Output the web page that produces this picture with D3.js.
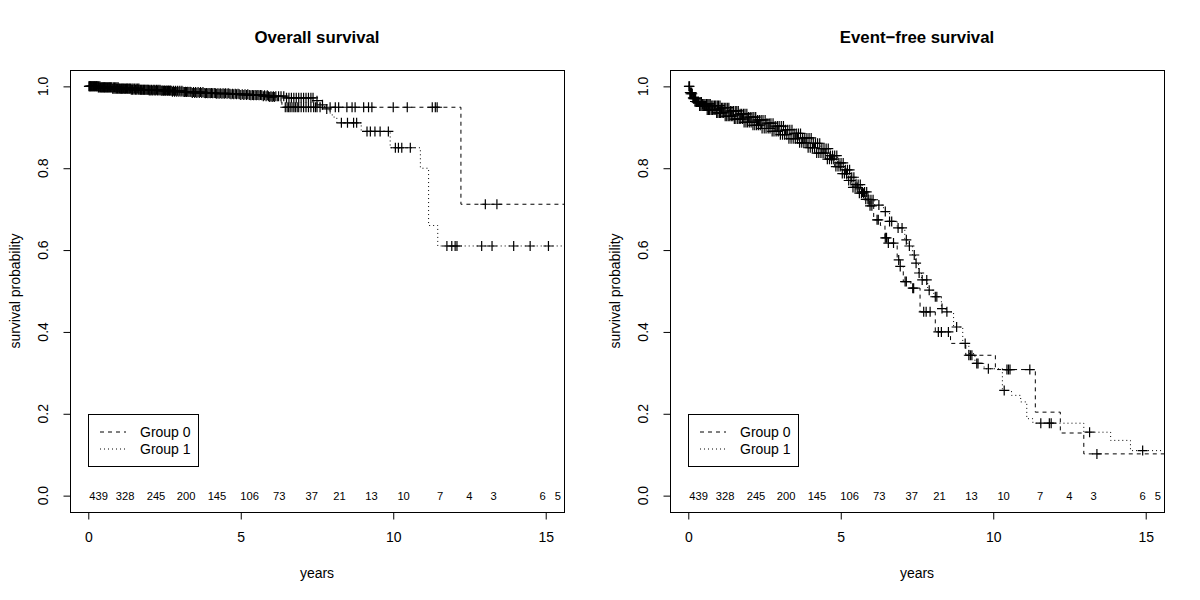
<!DOCTYPE html>
<html>
<head>
<meta charset="utf-8">
<script src="https://cdn.jsdelivr.net/npm/d3@7"></script>
<style>
  html, body { margin: 0; padding: 0; background: #fff; }
  svg { display: block; font-family: "Liberation Sans", Arial, Helvetica, sans-serif; }
</style>
</head>
<body>
<svg id="chart" width="1200" height="600"></svg>
<script>
// ---------------- DATA ----------------
const panelTitles = ["Overall survival", "Event\u2212free survival"];
const groupNames = ["Group 0", "Group 1"];
const xTicks = [0, 5, 10, 15];
const yTicks = [0, 0.2, 0.4, 0.6, 0.8, 1.0];

// Overall survival – step times and survival after each step
const os0Times = [0, 0.4, 1.0, 1.7, 2.4, 3.1, 3.8, 4.6, 5.3, 5.9, 6.2, 6.35, 12.22];
const os0Surv  = [1, 0.998, 0.995, 0.992, 0.989, 0.986, 0.983, 0.981, 0.978, 0.974, 0.962, 0.949, 0.712];
const os1Times = [0, 0.3, 0.8, 1.4, 2.0, 2.7, 3.4, 4.2, 5.0, 5.7, 6.5, 7.4, 7.6, 7.75, 7.9, 8.0, 8.15, 8.95, 9.9, 10.89, 11.16, 11.46];
const os1Surv  = [1, 0.997, 0.994, 0.992, 0.99, 0.987, 0.984, 0.982, 0.979, 0.976, 0.972, 0.965, 0.955, 0.945, 0.935, 0.925, 0.911, 0.89, 0.85, 0.80, 0.66, 0.61];
const os0Cens = [0.02,0.04,0.07,0.1,0.13,0.17,0.2,0.24,0.27,0.31,0.34,0.38,0.42,0.46,0.5,0.53,0.57,0.61,0.65,0.69,0.73,0.77,0.82,0.86,0.9,0.94,0.98,1.02,1.07,1.11,1.15,1.2,1.25,1.29,1.34,1.38,1.43,1.47,1.52,1.57,1.62,1.66,1.71,1.76,1.81,1.86,1.92,1.97,2.02,2.07,2.13,2.18,2.24,2.29,2.35,2.41,2.47,2.53,2.6,2.66,2.72,2.79,2.86,2.93,3.0,3.07,3.15,3.22,3.3,3.37,3.45,3.52,3.6,3.68,3.76,3.84,3.92,4.0,4.08,4.17,4.25,4.33,4.42,4.5,4.59,4.68,4.77,4.86,4.95,5.05,5.14,5.23,5.33,5.42,5.51,5.6,5.69,5.78,5.87,5.95,6.03,6.1,6.46,6.52,6.57,6.62,6.68,6.74,6.79,6.85,6.9,6.98,7.06,7.14,7.22,7.3,7.39,7.45,7.5,7.6,7.93,8.1,8.21,8.48,8.65,8.75,9.03,9.19,9.3,10.0,10.46,11.28,11.38,11.44,13.02,13.4];
const os1Cens = [0.05,0.08,0.12,0.15,0.19,0.22,0.26,0.29,0.33,0.36,0.4,0.44,0.48,0.52,0.55,0.59,0.63,0.67,0.71,0.75,0.8,0.84,0.88,0.92,0.96,1.0,1.05,1.09,1.13,1.18,1.22,1.27,1.31,1.36,1.41,1.45,1.5,1.55,1.59,1.64,1.69,1.74,1.79,1.84,1.89,1.95,2.0,2.05,2.1,2.16,2.21,2.27,2.32,2.38,2.44,2.5,2.57,2.63,2.69,2.76,2.83,2.9,2.97,3.04,3.11,3.19,3.26,3.34,3.41,3.49,3.56,3.64,3.72,3.8,3.88,3.96,4.04,4.13,4.21,4.29,4.38,4.46,4.55,4.64,4.73,4.82,4.91,5.0,5.1,5.19,5.28,5.38,5.47,5.56,5.65,5.74,5.83,5.91,5.99,6.07,6.15,6.24,6.32,6.41,6.5,6.58,6.66,6.74,6.82,6.9,6.98,7.06,7.14,7.22,7.3,7.37,7.5,7.68,7.82,8.3,8.5,8.7,8.8,9.14,9.25,9.4,9.57,9.84,10.07,10.17,10.28,10.56,11.76,11.92,12.03,12.09,12.9,13.24,13.95,14.49,15.09];

// Event-free survival
const efs0Times = [0, 0.05, 0.12, 0.2, 0.35, 0.6, 0.9, 1.2, 1.5, 1.8, 2.1, 2.4, 2.7, 3.0, 3.3, 3.6, 3.9, 4.2, 4.5, 4.8, 5.0, 5.2, 5.4, 5.6, 5.8, 5.95, 6.08, 6.3, 6.45, 6.55, 6.85, 6.95, 7.05, 7.3, 7.6, 8.1, 8.6, 9.1, 10.07, 11.38, 12.2, 12.97];
const efs0Surv  = [1, 0.985, 0.972, 0.963, 0.952, 0.942, 0.935, 0.927, 0.92, 0.912, 0.905, 0.897, 0.89, 0.882, 0.872, 0.862, 0.85, 0.837, 0.822, 0.804, 0.787, 0.77, 0.753, 0.739, 0.724, 0.708, 0.674, 0.66, 0.63, 0.617, 0.576, 0.56, 0.523, 0.507, 0.449, 0.40, 0.372, 0.343, 0.308, 0.204, 0.153, 0.102];
const efs1Times = [0, 0.06, 0.15, 0.25, 0.45, 0.75, 1.05, 1.35, 1.65, 1.95, 2.25, 2.55, 2.85, 3.15, 3.45, 3.75, 4.05, 4.35, 4.65, 4.9, 5.1, 5.3, 5.5, 5.7, 5.9, 6.1, 6.4, 6.6, 6.85, 7.1, 7.2, 7.35, 7.45, 7.55, 7.65, 7.85, 8.05, 8.3, 8.45, 8.7, 9.0, 9.2, 9.4, 9.7, 10.3, 10.6, 10.9, 11.1, 11.3, 12.97, 13.85, 14.5];
const efs1Surv  = [1, 0.982, 0.97, 0.962, 0.957, 0.953, 0.948, 0.94, 0.933, 0.925, 0.918, 0.91, 0.903, 0.894, 0.885, 0.874, 0.861, 0.848, 0.831, 0.813, 0.796, 0.778, 0.76, 0.742, 0.723, 0.71, 0.694, 0.67, 0.654, 0.625, 0.61, 0.588, 0.568, 0.544, 0.527, 0.502, 0.486, 0.457, 0.449, 0.412, 0.372, 0.347, 0.323, 0.31, 0.257, 0.245, 0.229, 0.188, 0.177, 0.155, 0.135, 0.11];
const efs0Cens = [0.02,0.05,0.08,0.11,0.15,0.18,0.22,0.25,0.29,0.33,0.37,0.41,0.45,0.49,0.53,0.57,0.62,0.66,0.7,0.75,0.79,0.84,0.88,0.93,0.97,1.02,1.06,1.11,1.16,1.21,1.26,1.31,1.36,1.41,1.46,1.51,1.56,1.62,1.67,1.72,1.78,1.83,1.89,1.94,2.0,2.06,2.12,2.18,2.24,2.3,2.36,2.42,2.49,2.55,2.62,2.68,2.75,2.81,2.88,2.95,3.02,3.09,3.16,3.23,3.3,3.37,3.44,3.51,3.58,3.65,3.72,3.79,3.86,3.93,4.0,4.07,4.14,4.21,4.28,4.35,4.42,4.49,4.56,4.63,4.7,4.77,4.84,4.91,4.98,5.05,5.12,5.19,5.26,5.33,5.4,5.47,5.54,5.61,5.68,5.75,5.82,5.89,5.96,6.02,6.19,6.23,6.46,6.5,6.56,6.73,6.9,6.95,7.11,7.15,7.36,7.39,7.72,7.8,7.93,8.2,8.3,8.53,9.2,9.25,9.3,10.45,10.5,10.55,11.2,13.4];
const efs1Cens = [0.04,0.07,0.1,0.13,0.17,0.2,0.24,0.27,0.31,0.35,0.39,0.43,0.47,0.51,0.55,0.6,0.64,0.68,0.72,0.77,0.81,0.86,0.9,0.95,0.99,1.04,1.09,1.13,1.18,1.23,1.28,1.33,1.38,1.43,1.48,1.54,1.59,1.64,1.7,1.75,1.81,1.86,1.92,1.97,2.03,2.09,2.15,2.21,2.27,2.33,2.39,2.45,2.52,2.58,2.65,2.71,2.78,2.85,2.92,2.98,3.05,3.12,3.19,3.26,3.33,3.4,3.47,3.54,3.61,3.68,3.75,3.82,3.89,3.96,4.03,4.1,4.17,4.24,4.31,4.38,4.45,4.52,4.59,4.66,4.73,4.8,4.87,4.94,5.01,5.08,5.15,5.22,5.29,5.36,5.43,5.5,5.57,5.64,5.71,5.78,5.85,5.92,5.99,6.06,6.25,6.46,6.6,6.67,6.88,7.01,7.15,7.25,7.41,7.47,7.57,7.67,7.82,7.9,8.1,8.15,8.32,8.48,8.8,9.08,9.46,9.5,9.84,10.36,11.56,11.84,11.9,13.16,14.9];

// numbers at risk (label and time position)
const riskTimes  = [0.34, 1.21, 2.22, 3.21, 4.22, 5.29, 6.26, 7.33, 8.24, 9.29, 10.34, 11.54, 12.5, 13.29, 14.9, 15.4];
const riskLabels = ["439","328","245","200","145","106","73","37","21","13","10","7","4","3","6","5"];

// ---------------- DRAW ----------------
const svg = d3.select("#chart");
const dashes = ["4,4", "1,3"];
const endTime = 16;

const panels = [
  { left: 70,  title: panelTitles[0], curves: [[os0Times, os0Surv, os0Cens], [os1Times, os1Surv, os1Cens]] },
  { left: 670, title: panelTitles[1], curves: [[efs0Times, efs0Surv, efs0Cens], [efs1Times, efs1Surv, efs1Cens]] }
];

panels.forEach((p, pi) => {
  const x = d3.scaleLinear().domain([-0.6, 15.6]).range([p.left, p.left + 494]);
  const y = d3.scaleLinear().domain([-0.04, 1.04]).range([512, 70]);
  const g = svg.append("g");

  const clipId = "clip" + pi;
  svg.append("clipPath").attr("id", clipId)
    .append("rect").attr("x", x.range()[0]).attr("y", 70)
    .attr("width", 494).attr("height", 442);

  const plot = g.append("g").attr("clip-path", `url(#${clipId})`);

  p.curves.forEach(([times, surv, cens], gi) => {
    const pts = times.map((t, i) => [t, surv[i]]);
    pts.push([endTime, surv[surv.length - 1]]);
    plot.append("path")
      .attr("d", d3.line().x(d => x(d[0])).y(d => y(d[1])).curve(d3.curveStepAfter)(pts))
      .attr("fill", "none").attr("stroke", "#000").attr("stroke-width", 1)
      .attr("stroke-dasharray", dashes[gi]);

    const bis = d3.bisector(d => d).right;
    const survAt = t => surv[Math.max(0, bis(times, t) - 1)];
    plot.append("g").selectAll("path").data(cens).join("path")
      .attr("d", t => {
        const cx = x(t), cy = y(survAt(t));
        return `M${cx - 5},${cy}H${cx + 5}M${cx},${cy - 5}V${cy + 5}`;
      })
      .attr("stroke", "#000").attr("stroke-width", 1.2).attr("fill", "none");
  });

  // numbers at risk
  g.append("g").selectAll("text").data(riskTimes).join("text")
    .attr("x", d => x(d)).attr("y", y(0)).attr("dy", "0.35em")
    .attr("text-anchor", "middle").attr("font-size", 11.2)
    .text((d, i) => riskLabels[i]);

  // box
  g.append("rect").attr("x", x.range()[0] + 0.5).attr("y", 70.5)
    .attr("width", 494).attr("height", 442)
    .attr("fill", "none").attr("stroke", "#000").attr("stroke-width", 1);

  // x axis
  const xAxis = d3.axisBottom(x).tickValues(xTicks).tickSize(7).tickPadding(13).tickFormat(d3.format("d"));
  const xa = g.append("g").attr("transform", "translate(0,512.5)").call(xAxis);
  xa.select(".domain").attr("d", `M${x(0)},0H${x(15)}`);
  xa.selectAll("text").attr("font-size", 14).attr("font-family", null).attr("fill", "#000");
  xa.selectAll("line").attr("stroke", "#000");

  // y axis
  const yAxis = d3.axisLeft(y).tickValues(yTicks).tickSize(7).tickFormat("");
  const ya = g.append("g").attr("transform", `translate(${x.range()[0] + 0.5},0)`).call(yAxis);
  ya.select(".domain").attr("d", `M0,${y(0)}V${y(1)}`);
  ya.selectAll("line").attr("stroke", "#000");
  g.append("g").selectAll("text").data(yTicks).join("text")
    .attr("transform", d => `translate(${x.range()[0] - 27},${y(d)}) rotate(-90)`)
    .attr("text-anchor", "middle").attr("dy", "0.35em").attr("font-size", 14)
    .text(d3.format(".1f"));

  // labels
  const cx = x.range()[0] + 247;
  g.append("text").attr("x", cx).attr("y", 43).attr("text-anchor", "middle")
    .attr("font-size", 16.8).attr("font-weight", "bold").text(p.title);
  g.append("text").attr("x", cx).attr("y", 573).attr("dy", "0.35em").attr("text-anchor", "middle")
    .attr("font-size", 14).text("years");
  g.append("text").attr("transform", `translate(${x.range()[0] - 55},291) rotate(-90)`)
    .attr("text-anchor", "middle").attr("dy", "0.35em").attr("font-size", 14).text("survival probability");

  // legend
  const lx = x.range()[0] + 18, ly = 414;
  g.append("rect").attr("x", lx + 0.5).attr("y", ly + 0.5).attr("width", 110).attr("height", 52)
    .attr("fill", "#fff").attr("stroke", "#000");
  groupNames.forEach((name, gi) => {
    const yy = ly + 18 + gi * 17;
    g.append("line").attr("x1", lx + 12).attr("x2", lx + 38).attr("y1", yy).attr("y2", yy)
      .attr("stroke", "#000").attr("stroke-dasharray", dashes[gi]);
    g.append("text").attr("x", lx + 52).attr("y", yy).attr("dy", "0.35em")
      .attr("font-size", 14).text(name);
  });
});
</script>
</body>
</html>
